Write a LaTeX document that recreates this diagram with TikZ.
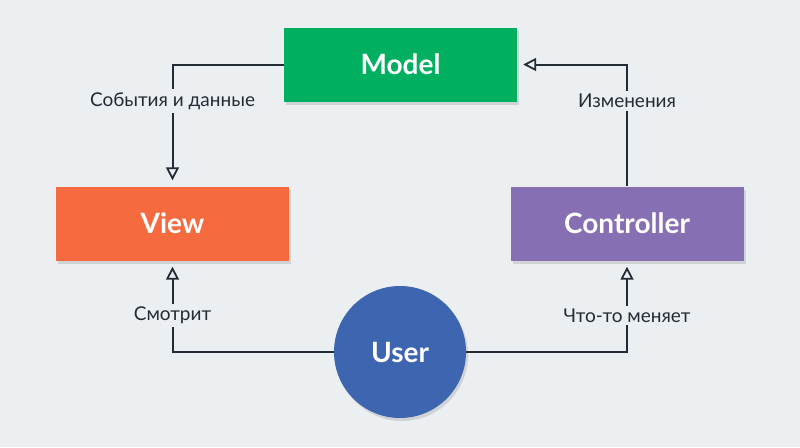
\documentclass[tikz,border=0pt]{standalone}
\usepackage{fontspec}
\setmainfont{Lato}
\usetikzlibrary{arrows.meta,shadows}

\definecolor{bgcol}{RGB}{236,239,242}
\definecolor{modelcol}{RGB}{0,176,96}
\definecolor{viewcol}{RGB}{246,106,64}
\definecolor{ctrlcol}{RGB}{135,111,180}
\definecolor{usercol}{RGB}{61,101,176}
\definecolor{linecol}{RGB}{35,43,52}

\begin{document}
\begin{tikzpicture}[x=1pt,y=-1pt,
                    box/.style={rectangle,minimum width=233pt,minimum height=74pt,
                      text=white,font=\fontsize{28}{30}\selectfont\bfseries,
                      drop shadow={opacity=0.25,shadow xshift=2pt,shadow yshift=-3pt}},
                    arr/.style={-{Triangle[open,length=13pt,width=13pt,line width=1.8pt]},
                      draw=linecol,line width=2pt,shorten >=6pt},
                    lbl/.style={fill=bgcol,text=linecol,inner sep=3pt,
                      font=\fontsize{19}{21}\selectfont}]

  \fill[bgcol] (0,0) rectangle (800,447);
  \useasboundingbox (0,0) rectangle (800,447);

  \node[box,fill=modelcol] (model) at (400.5,64.5) {Model};
  \node[box,fill=viewcol]  (view)  at (172.5,223.5) {View};
  \node[box,fill=ctrlcol]  (ctrl)  at (627,223.5) {Controller};
  \node[circle,fill=usercol,minimum size=132pt,text=white,
        font=\fontsize{28}{30}\selectfont\bfseries,
        drop shadow={opacity=0.25,shadow xshift=2pt,shadow yshift=-3pt}]
        (user) at (400,352) {User};

  \draw[arr] (model.west) -| node[lbl,pos=0.65] {События и данные} (view.north);
  \draw[arr] (ctrl.north) |- node[lbl,pos=0.35] {Изменения} (model.east);
  \draw[arr] (user.west) -| node[lbl,pos=0.70] {Смотрит} (view.south);
  \draw[arr] (user.east) -| node[lbl,pos=0.70] {Что-то меняет} (ctrl.south);

\end{tikzpicture}
\end{document}
